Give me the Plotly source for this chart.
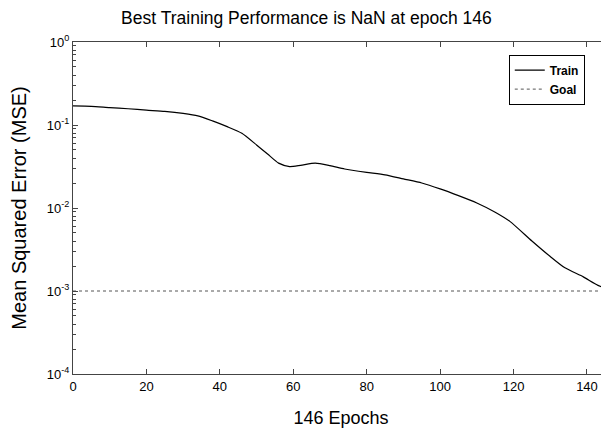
import plotly.graph_objects as go

epochs = [0, 5, 10, 15, 20, 25, 30, 34, 38, 42, 46, 50, 53, 56, 59, 62, 66, 70, 74, 80,
          85, 90, 95, 100, 105, 110, 115, 119, 125, 130, 134, 139, 143, 146]
train_mse = [0.170, 0.168, 0.162, 0.157, 0.151, 0.146, 0.138, 0.129, 0.112, 0.0955,
             0.0794, 0.0575, 0.0447, 0.0347, 0.0316, 0.0327, 0.0347, 0.0324, 0.0295, 0.0269,
             0.0251, 0.0224, 0.0200, 0.0170, 0.0141, 0.0115, 0.0089, 0.0069, 0.0040, 0.0026,
             0.0019, 0.00148, 0.00117, 0.00105]
goal_x = [0, 146]
goal_y = [1e-3, 1e-3]

x_ticks = [0, 20, 40, 60, 80, 100, 120, 140]
y_ticks = [1e-4, 1e-3, 1e-2, 1e-1, 1]
y_ticklabels = ["10<sup>-4</sup>", "10<sup>-3</sup>", "10<sup>-2</sup>", "10<sup>-1</sup>", "10<sup>0</sup>"]
y_minor = [k * 10.0 ** d for d in range(-4, 0) for k in range(2, 10)]

FONT = "Liberation Sans, Arial, sans-serif"

fig = go.Figure()
fig.add_trace(go.Scatter(x=epochs, y=train_mse, mode="lines", name="Train",
                         line=dict(color="black", width=1.2, shape="spline", smoothing=0.6)))
fig.add_trace(go.Scatter(x=goal_x, y=goal_y, mode="lines", name="Goal",
                         line=dict(color="#555555", width=1, dash="dot")))

# page body has an 8px margin; margins below compensate for it
fig.update_layout(
    width=609, height=432,
    margin=dict(l=65, r=8, t=34, b=66),
    paper_bgcolor="white", plot_bgcolor="white",
    font=dict(family=FONT, color="black", size=13),
    title=dict(text="Best Training Performance is NaN at epoch 146",
               x=0.49, xanchor="center", y=0.977, yanchor="middle",
               font=dict(size=17.5, family=FONT)),
    showlegend=True,
    legend=dict(x=0.813, y=0.962, xanchor="left", yanchor="top",
                bordercolor="black", borderwidth=1, bgcolor="white",
                font=dict(size=12, family=FONT, color="black", weight="bold"),
                itemwidth=30, tracegroupgap=0),
)
fig.update_xaxes(
    range=[0, 146], tickvals=x_ticks, ticks="inside", ticklen=5, tickcolor="#444",
    showline=True, linecolor="#444", linewidth=1, mirror="ticks", showgrid=False, zeroline=False,
    tickfont=dict(size=13, family=FONT), automargin=False,
    title=dict(text="146 Epochs", font=dict(size=18, family=FONT), standoff=18),
)
fig.update_yaxes(
    type="log", range=[-4, 0], tickvals=y_ticks, ticktext=y_ticklabels,
    ticks="inside", ticklen=5, tickcolor="#444",
    minor=dict(tickvals=y_minor, ticks="inside", ticklen=3, tickcolor="#444", showgrid=False),
    showline=True, linecolor="#444", linewidth=1, mirror="ticks", showgrid=False, zeroline=False,
    tickfont=dict(size=13, family=FONT), automargin=False,
    title=dict(text="Mean Squared Error (MSE)", font=dict(size=20, family=FONT), standoff=16),
)

fig.write_html("out.html")
